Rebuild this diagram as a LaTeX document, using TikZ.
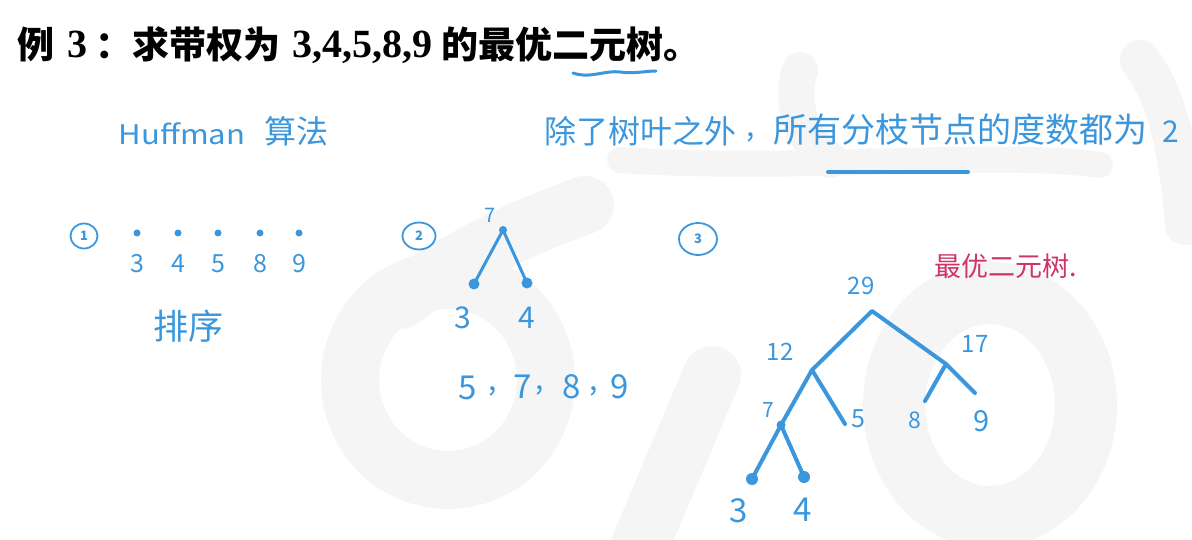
\documentclass[tikz,border=0pt]{standalone}
\usepackage{fontspec}
\usepackage{graphicx}
\setmainfont{Noto Sans CJK SC}
\newfontfamily\cjk{Noto Sans CJK SC}
\newfontfamily\tms{Liberation Serif}
\usetikzlibrary{shapes.geometric}
\definecolor{hb}{RGB}{59,151,221}
\definecolor{hm}{RGB}{208,51,107}
\definecolor{wm}{RGB}{245,245,245}
\newcommand\fsz[1]{\fontsize{#1}{#1}\selectfont}
\begin{document}
\begin{tikzpicture}[x=1pt,y=-1pt,
  every node/.style={inner sep=0pt,outer sep=0pt},
  hand/.style={text=hb,font=\cjk},
  ttl/.style={text=black,font=\cjk\bfseries\fsz{37},anchor=base},
  ttlnum/.style={text=black,font=\tms\bfseries\fsz{40},anchor=base},
  circled/.style={draw=hb,line width=1.8pt,ellipse,text=hb,font=\cjk\bfseries\fsz{13}},
  bigdot/.style={circle,fill=hb,minimum size=11pt},
  smalldot/.style={circle,fill=hb,minimum size=7pt},
  edge2/.style={draw=hb,line width=3pt,line cap=round},
  edge3/.style={draw=hb,line width=4pt,line cap=round,line join=round},
  wmark/.style={draw=wm,line cap=round}]
\useasboundingbox (0,0) rectangle (1192,540);
\fill[white] (0,0) rectangle (1192,540);
% watermark
\draw[wmark,line width=58pt] (448,380) ellipse (98 and 100);
\draw[wmark,line width=58pt] (400,300) .. controls (470,250) and (530,225) .. (585,205);
\draw[wmark,line width=58pt] (712,375) -- (640,545);
\draw[wmark,line width=62pt] (990,405) ellipse (96 and 112);
\draw[wmark,line width=36pt] (800,70) .. controls (790,100) and (800,140) .. (830,160);
\draw[wmark,line width=26pt] (620,160) .. controls (800,172) and (1000,150) .. (1100,165);
\draw[wmark,line width=40pt] (1140,60) .. controls (1170,100) and (1180,160) .. (1185,225);
% title
\node[ttl] (t1) at (36,59) {例};
\node[ttlnum] (t2) at (77,58) {3};
\node[ttl] (t3) at (114,59) {：};
\node[ttl] (t4) at (206,59) {求带权为};
\node[ttlnum] (t5) at (362,58) {3,4,5,8,9};
\node[ttl] (t6) at (571,59) {的最优二元树。};
\draw[hb,line width=3pt,line cap=round] (573,73) .. controls (590,79) and (605,70) .. (620,72) .. controls (635,74) and (645,71) .. (656,71);
% header notes
\node[hand,font=\cjk\fsz{27}] (huff) at (182,134) {\scalebox{1.15}[1]{Huffman}};
\node[hand,font=\cjk\fsz{32}] (suanfa) at (296,131) {算法};
\node[hand,font=\cjk\fsz{32}] (p1) at (640,131) {除了树叶之外};
\node[hand,font=\cjk\fsz{30}] (pc) at (751,137) {,};
\node[hand,font=\cjk\fsz{34}] (p2) at (960,130) {所有分枝节点的度数都为};
\node[hand,font=\cjk\fsz{30}] (p3) at (1171,132) {2};
\coordinate (ulA) at (828,172);
\coordinate (ulB) at (968,172);
\draw[hb,line width=4pt,line cap=round] (ulA) -- (ulB);
% step 1
\node[circled,minimum width=27pt,minimum height=25pt] (c1) at (84,236) {1};
\foreach \x/\v [count=\i] in {137/3,178/4,218/5,260/8,299/9}{
  \node[smalldot] (a\i) at (\x,233) {};
  \node[hand,font=\cjk\fsz{25}] (an\i) at (\x,264) {\v};
}
\node[hand,font=\cjk\fsz{35}] (paixu) at (188,326) {排序};
% step 2
\node[circled,minimum width=33pt,minimum height=27pt] (c2) at (419,236) {2};
\node[smalldot,minimum size=8pt] (b7) at (503,230) {};
\node[bigdot] (b3) at (474,284) {};
\node[bigdot] (b4) at (527,283) {};
\draw[edge2] (b7.center) -- (b3.center);
\draw[edge2] (b7.center) -- (b4.center);
\node[hand,font=\cjk\fsz{20}] (b7l) at (490,215) {7};
\node[hand,font=\cjk\fsz{30}] (b3l) at (463,318) {3};
\node[hand,font=\cjk\fsz{30}] (b4l) at (527,318) {4};
\node[hand,font=\cjk\fsz{33}] (s5) at (468,388) {5};
\node[hand,font=\cjk\fsz{30}] (sc1) at (493,391) {,};
\node[hand,font=\cjk\fsz{33}] (s7) at (523,387) {7};
\node[hand,font=\cjk\fsz{30}] (sc2) at (540,390) {,};
\node[hand,font=\cjk\fsz{33}] (s8) at (572,387) {8};
\node[hand,font=\cjk\fsz{30}] (sc3) at (594,391) {,};
\node[hand,font=\cjk\fsz{33}] (s9) at (620,387) {9};
% step 3
\node[circled,minimum width=38pt,minimum height=32pt] (c3) at (698,239) {3};
\node[text=hm,font=\cjk\fsz{27}] (best) at (1006,266) {最优二元树.};
\coordinate (r29) at (872,311);
\coordinate (n12) at (812,370);
\coordinate (n17) at (946,364);
\coordinate (l8) at (925,401);
\coordinate (l9) at (975,393);
\coordinate (n7) at (781,425);
\coordinate (l5) at (845,424);
\node[bigdot,minimum size=12pt] (l3) at (752,479) {};
\node[bigdot,minimum size=12pt] (l4) at (804,477) {};
\draw[edge3] (n12) -- (r29) -- (n17);
\draw[edge3] (l8) -- (n17) -- (l9);
\draw[edge3] (n7) -- (n12) -- (l5);
\draw[edge3] (n7) -- (l3.center);
\draw[edge3] (n7) -- (l4.center);
\node[smalldot,minimum size=9pt] (n7d) at (n7) {};
\node[hand,font=\cjk\fsz{24}] (t29) at (861,286) {29};
\node[hand,font=\cjk\fsz{24}] (t12) at (780,352) {12};
\node[hand,font=\cjk\fsz{24}] (t17) at (975,344) {17};
\node[hand,font=\cjk\fsz{21}] (t7) at (768,410) {7};
\node[hand,font=\cjk\fsz{25}] (t5) at (858,419) {5};
\node[hand,font=\cjk\fsz{23}] (t8) at (915,420) {8};
\node[hand,font=\cjk\fsz{29}] (t9) at (982,421) {9};
\node[hand,font=\cjk\fsz{33}] (t3) at (739,511) {3};
\node[hand,font=\cjk\fsz{33}] (t4) at (803,510) {4};
\end{tikzpicture}
\end{document}
